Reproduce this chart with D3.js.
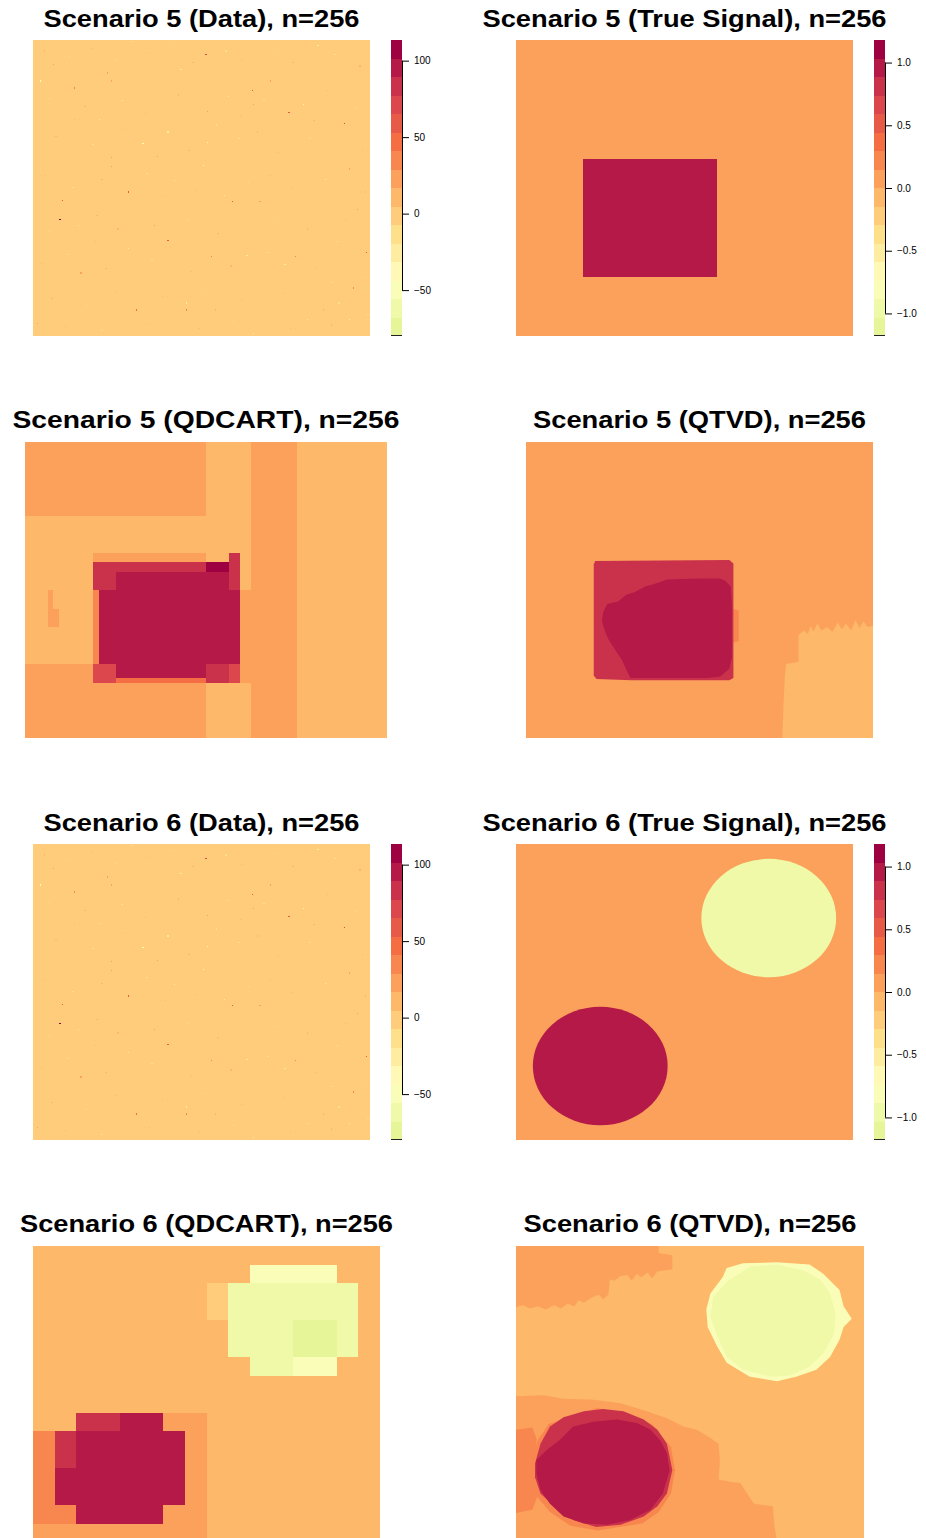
<!DOCTYPE html>
<html>
<head>
<meta charset="utf-8">
<script src="https://cdn.jsdelivr.net/npm/d3@7"></script>
<style>
  body { margin: 0; background: #fff; }
  svg { display: block; }
  text { font-family: "Liberation Sans", Arial, Helvetica, sans-serif; }
</style>
</head>
<body>
<div id="chart"></div>
<script>
// colour ramp used by every panel (top of the colour bar first)
const paletteAnchors = ['#9E0142', '#D53E4F', '#F46D43', '#FDAE61', '#FEE08B', '#FFFFBF', '#E6F598'];
const nColors = 16;
const gridSize = 256;

// colour-bar ranges and ticks
const dataZlim = [-80, 113.5];
const signalZlim = [-1.18, 1.18];
const dataTicks = [-50, 0, 50, 100];
const signalTicks = [-1, -0.5, 0, 0.5, 1];

const titles = [
  'Scenario 5 (Data), n=256', 'Scenario 5 (True Signal), n=256',
  'Scenario 5 (QDCART), n=256', 'Scenario 5 (QTVD), n=256',
  'Scenario 6 (Data), n=256', 'Scenario 6 (True Signal), n=256',
  'Scenario 6 (QDCART), n=256', 'Scenario 6 (QTVD), n=256'
];

// noisy data: typical level plus the visible outlier pixels [x, y, value]
const noiseLevel = 0;
const noiseSpecks = [
  [20, 100, 110], [131, 243, 70], [166, 212, 60], [194, 193, 65], [236, 183, 70],
  [72, 124, 60], [22, 117, 55], [151, 116, 65], [102, 82, 60], [78, 22, 50],
  [116, 22, 40], [243, 41, 35], [199, 68, 30], [135, 68, 30], [253, 72, 55],
  [31, 214, 30], [59, 154, 25], [59, 220, 25], [132, 194, 25], [129, 147, -45],
  [5, 220, -40], [132, 167, -35], [240, 14, -30], [83, 166, -40], [102, 176, -30],
  [148, 207, -30], [205, 200, -35], [216, 251, -30], [75, 254, -30], [50, 187, -25],
  [72, 75, -30], [34, 95, -25], [107, 134, -25], [145, 121, -25], [231, 81, -30],
  [191, 61, -25], [116, 28, -25], [208, 14, -25], [167, 2, -25], [15, 234, 20],
  [56, 227, 20], [180, 220, 20], [167, 200, 20], [31, 187, 15], [94, 155, 20],
  [59, 146, 20], [240, 144, 20], [172, 116, 20], [92, 95, 20], [3, 10, 20],
  [220, 22, 15], [47, 81, 15], [180, 138, 15], [223, 212, 15], [36, 54, 20],
  [138, 22, 15], [246, 109, 20], [112, 230, -20], [162, 69, -20], [226, 46, -20],
  // fainter pixels
  [8, 246, 10], [27, 241, -12], [44, 248, 12], [63, 239, -15], [88, 244, 10],
  [104, 250, -12], [121, 236, 12], [146, 246, -15], [158, 238, 10], [183, 247, -12],
  [197, 236, 12], [229, 243, -15], [248, 233, 10], [12, 205, -12], [39, 198, 10],
  [67, 203, -15], [85, 192, 12], [110, 208, 10], [139, 182, -12], [157, 190, 12],
  [175, 204, -15], [213, 186, 10], [245, 197, -12], [17, 172, 12], [45, 165, -15],
  [70, 178, 10], [118, 160, 12], [156, 170, -12], [186, 158, 10], [210, 170, -15],
  [250, 160, 12], [9, 138, 10], [30, 128, -12], [52, 135, 12], [86, 140, -15],
  [123, 125, 10], [163, 132, -12], [196, 127, 12], [222, 135, -15], [252, 124, 10],
  [12, 90, -12], [48, 104, 12], [64, 92, 10], [117, 100, -15], [140, 88, 12],
  [185, 98, -12], [208, 92, 10], [237, 100, 12], [6, 62, 12], [26, 70, -15],
  [55, 58, 10], [90, 66, -12], [120, 55, 12], [150, 60, 10], [178, 72, -15],
  [214, 58, 12], [250, 50, -12], [14, 32, 10], [40, 26, -15], [62, 38, 12],
  [98, 34, 10], [128, 40, -12], [158, 30, 12], [190, 36, 10], [232, 28, -15],
  [24, 8, 12], [52, 4, -12], [88, 10, 10], [126, 6, 12], [152, 12, -15],
  [195, 6, 10], [226, 9, 12], [254, 18, -12], [100, 120, 12], [170, 176, 10]
];

// true signals
const s5Square = [51, 153, 51, 153, 1];            // x0, x1, y0, y1, value
const s5Background = 0;
const s6Circles = [[64, 64, 51.2, 1], [192, 192, 51.2, -1]]; // cx, cy, r, value
const s6Background = 0;

// QDCART fits: dyadic blocks [x0, x1, y0, y1, value], painted in order
const s5Qdcart = [
  [0, 256, 0, 256, -0.07], [0, 128, 192, 256, 0.07], [160, 192, 0, 256, 0.07],
  [0, 128, 0, 64, 0.07], [152, 160, 48, 128, 0.07], [16, 20, 96, 128, 0.07],
  [20, 24, 96, 112, 0.07], [48, 128, 152, 160, 0.07], [144, 152, 128, 160, 0.8],
  [48, 128, 144, 152, 0.8], [128, 144, 144, 152, 1.1], [48, 64, 128, 144, 0.8],
  [64, 144, 128, 144, 0.95], [48, 52, 64, 128, 0.22], [52, 152, 64, 128, 0.95],
  [48, 64, 48, 64, 0.66], [64, 128, 52, 64, 0.95], [64, 128, 48, 52, 0.37],
  [128, 144, 48, 64, 0.8], [144, 152, 48, 64, 0.66]
];
const s6Qdcart = [
  [0, 256, 0, 256, -0.07], [0, 128, 0, 112, 0.07], [0, 32, 96, 112, -0.07],
  [0, 16, 16, 96, 0.22], [16, 32, 16, 32, 0.22], [32, 64, 96, 112, 0.8],
  [64, 96, 96, 112, 0.95], [16, 32, 64, 96, 0.8], [32, 112, 32, 96, 0.95],
  [16, 32, 32, 64, 0.95], [32, 96, 16, 32, 0.95],
  [160, 224, 224, 240, -0.81], [128, 144, 192, 224, -0.22], [144, 240, 160, 224, -0.96],
  [192, 224, 160, 192, -1.11], [160, 192, 144, 160, -0.96], [192, 224, 144, 160, -0.81]
];

// QTVD fits: background level plus regions {value, points}
const s5QtvdBackground = 0.07;
const s5Qtvd = [
  { value: -0.07, points: [[189, 0], [190, 30], [191, 55], [192, 64], [201, 66], [201, 89], [205, 93], [208, 90], [210, 97], [212, 92], [215, 99], [218, 93], [222, 96], [226, 92], [230, 100], [233, 94], [236, 99], [240, 93], [243, 102], [246, 95], [249, 101], [252, 96], [256, 97], [256, 0]] },
  { value: 0.22, points: [[152, 82], [157, 84], [157, 110], [152, 112]] },
  { value: 0.8, points: [[50, 150], [51, 153], [150, 154], [153, 151], [153, 52], [150, 50], [78, 50], [52, 51], [50, 54]] },
  { value: 0.95, points: [[99, 135], [104, 137], [128, 138], [143, 138], [147, 136], [151, 131], [152, 116], [152, 93], [152, 70], [150, 60], [143, 53], [133, 52], [77, 52], [74, 59], [71, 67], [66, 76], [61, 85], [58, 93], [56, 101], [57, 109], [60, 116], [68, 118], [74, 124], [80, 126], [88, 131], [94, 133]] }
];
const s6QtvdBackground = -0.07;
const s6Qtvd = [
  { value: 0.07, points: [[0, 256], [105, 256], [105, 250], [115, 248], [115, 236], [104, 234], [100, 228], [97, 233], [92, 229], [89, 232], [85, 226], [82, 231], [77, 230], [72, 226], [69, 227], [68, 214], [64, 210], [61, 214], [55, 211], [50, 207], [46, 209], [43, 204], [38, 206], [33, 202], [28, 205], [22, 201], [16, 204], [10, 202], [5, 205], [0, 203]] },
  { value: 0.07, points: [[0, 126], [20, 127], [35, 124], [57, 123], [77, 120], [94, 114], [111, 107], [123, 100], [133, 97], [143, 90], [149, 85], [150, 70], [149, 54], [158, 52], [165, 51], [170, 42], [175, 33], [182, 32], [189, 31], [190, 15], [192, 0], [0, 0]] },
  { value: 0.22, points: [[0, 97], [12, 99], [15, 90], [16, 40], [12, 28], [0, 25]] },
  { value: 0.22, points: [[12, 70], [16, 88], [24, 102], [60, 116], [100, 102], [114, 82], [117, 62], [114, 42], [105, 26], [93, 16], [60, 10], [40, 14], [25, 26], [15, 40], [12, 55]] },
  { value: 0.8, points: [[14, 68], [18, 85], [25, 100], [35, 108], [50, 113], [64, 115], [79, 113], [94, 106], [104, 97], [111, 85], [113, 74], [115, 62], [111, 42], [104, 31], [94, 22], [77, 15], [59, 13], [42, 19], [28, 31], [18, 42], [14, 56]] },
  { value: 0.95, points: [[15, 71], [23, 80], [32, 88], [42, 100], [57, 104], [74, 106], [89, 103], [99, 97], [106, 88], [111, 77], [113, 62], [108, 42], [99, 28], [84, 19], [67, 15], [50, 16], [35, 22], [25, 33], [18, 45], [15, 59]] },
  { value: -0.81, points: [[140, 201], [143, 215], [152, 229], [155, 237], [167, 241], [192, 242], [216, 240], [226, 232], [238, 218], [241, 204], [247, 193], [241, 186], [238, 175], [231, 160], [221, 149], [206, 143], [192, 139], [172, 143], [155, 155], [148, 169], [141, 186]] },
  { value: -0.96, points: [[143, 195], [145, 212], [155, 225], [172, 238], [192, 240], [211, 235], [224, 227], [231, 215], [235, 198], [234, 180], [226, 163], [216, 152], [202, 144], [187, 143], [167, 149], [155, 160], [148, 178]] }
];

// ---------------------------------------------------------------------------
const interp = d3.piecewise(d3.interpolateRgb, paletteAnchors);
const paletteTopDown = d3.quantize(interp, nColors);
const paletteLowHigh = paletteTopDown.slice().reverse();

const dataColor = d3.scaleQuantize().domain(dataZlim).range(paletteLowHigh);
const signalColor = d3.scaleQuantize().domain(signalZlim).range(paletteLowHigh);

// panel placement (pixels)
const layout = [
  { x0: 33, x1: 370, y0: 40, y1: 336, tw: 316, base: 27, bar: 'data' },
  { x0: 516, x1: 853, y0: 40, y1: 336, tw: 404, base: 27, bar: 'signal' },
  { x0: 25, x1: 387, y0: 442, y1: 738, tw: 387, base: 428 },
  { x0: 526, x1: 873, y0: 442, y1: 738, tw: 333, base: 428 },
  { x0: 33, x1: 370, y0: 844, y1: 1140, tw: 316, base: 831, bar: 'data' },
  { x0: 516, x1: 853, y0: 844, y1: 1140, tw: 404, base: 831, bar: 'signal' },
  { x0: 33, x1: 380, y0: 1246, y1: 1542, tw: 373, base: 1232 },
  { x0: 516, x1: 864, y0: 1246, y1: 1542, tw: 333, base: 1232 }
];

const svg = d3.select('#chart').append('svg')
  .attr('width', 926)
  .attr('height', 1538);

function drawBlocks(g, x, y, blocks, color) {
  g.selectAll('rect.block').data(blocks).join('rect')
    .attr('class', 'block')
    .attr('x', d => x(d[0]))
    .attr('width', d => x(d[1]) - x(d[0]))
    .attr('y', d => y(d[3]))
    .attr('height', d => y(d[2]) - y(d[3]))
    .attr('fill', d => color(d[4]))
    .attr('shape-rendering', 'crispEdges');
}

function drawRegions(g, x, y, regions, color) {
  const line = d3.line().x(d => x(d[0])).y(d => y(d[1]));
  g.selectAll('path.region').data(regions).join('path')
    .attr('class', 'region')
    .attr('d', d => line(d.points) + 'Z')
    .attr('fill', d => color(d.value));
}

function drawSpecks(g, x, y, specks, color) {
  g.selectAll('rect.speck').data(specks).join('rect')
    .attr('class', 'speck')
    .attr('x', d => x(d[0]))
    .attr('width', x(1) - x(0))
    .attr('y', d => y(d[1] + 1))
    .attr('height', y(0) - y(1))
    .attr('fill', d => color(d[2]))
    .attr('shape-rendering', 'crispEdges');
}

function drawColorBar(zlim, ticks, fmt, top, bottom, left) {
  const barW = 11;
  const yb = d3.scaleLinear().domain(zlim).range([bottom, top]);
  const color = d3.scaleQuantize().domain(zlim).range(paletteLowHigh);
  const step = (zlim[1] - zlim[0]) / nColors;
  const bins = d3.range(nColors).map(i => zlim[0] + i * step);
  const g = svg.append('g');
  g.selectAll('rect').data(bins).join('rect')
    .attr('x', left)
    .attr('width', barW)
    .attr('y', d => yb(d + step))
    .attr('height', d => yb(d) - yb(d + step))
    .attr('fill', d => color(d + step / 2))
    .attr('shape-rendering', 'crispEdges');
  g.append('line')
    .attr('x1', left).attr('x2', left + barW)
    .attr('y1', bottom - 0.5).attr('y2', bottom - 0.5)
    .attr('stroke', '#222').attr('stroke-width', 1);

  const axis = d3.axisRight(yb).tickValues(ticks).tickSize(7).tickPadding(5).tickFormat(fmt);
  const ag = svg.append('g')
    .attr('transform', `translate(${left + barW},0)`)
    .call(axis);
  ag.select('.domain').remove();
  ag.append('line')
    .attr('x1', 0.5).attr('x2', 0.5)
    .attr('y1', yb(ticks[0])).attr('y2', yb(ticks[ticks.length - 1]))
    .attr('stroke', '#000');
  ag.selectAll('.tick line').attr('stroke', '#000');
  ag.selectAll('.tick text')
    .attr('fill', '#000')
    .style('font-size', '10px')
    .style('font-family', '"Liberation Sans", Arial, sans-serif');
}

layout.forEach((p, i) => {
  const x = d3.scaleLinear().domain([0, gridSize]).range([p.x0, p.x1]);
  const y = d3.scaleLinear().domain([0, gridSize]).range([p.y1, p.y0]);
  const g = svg.append('g');

  if (i === 0 || i === 4) {
    drawBlocks(g, x, y, [[0, gridSize, 0, gridSize, noiseLevel]], dataColor);
    drawSpecks(g, x, y, noiseSpecks, dataColor);
  } else if (i === 1) {
    drawBlocks(g, x, y, [[0, gridSize, 0, gridSize, s5Background], s5Square], signalColor);
  } else if (i === 5) {
    drawBlocks(g, x, y, [[0, gridSize, 0, gridSize, s6Background]], signalColor);
    g.selectAll('ellipse').data(s6Circles).join('ellipse')
      .attr('cx', d => x(d[0]))
      .attr('cy', d => y(d[1]))
      .attr('rx', d => x(d[2]) - x(0))
      .attr('ry', d => y(0) - y(d[2]))
      .attr('fill', d => signalColor(d[3]));
  } else if (i === 2) {
    drawBlocks(g, x, y, s5Qdcart, signalColor);
  } else if (i === 6) {
    drawBlocks(g, x, y, s6Qdcart, signalColor);
  } else if (i === 3) {
    drawBlocks(g, x, y, [[0, gridSize, 0, gridSize, s5QtvdBackground]], signalColor);
    drawRegions(g, x, y, s5Qtvd, signalColor);
  } else if (i === 7) {
    drawBlocks(g, x, y, [[0, gridSize, 0, gridSize, s6QtvdBackground]], signalColor);
    drawRegions(g, x, y, s6Qtvd, signalColor);
  }

  svg.append('text')
    .attr('x', (p.x0 + p.x1) / 2)
    .attr('y', p.base)
    .attr('text-anchor', 'middle')
    .attr('font-weight', 'bold')
    .attr('font-size', 24)
    .attr('textLength', p.tw)
    .attr('lengthAdjust', 'spacingAndGlyphs')
    .text(titles[i]);

  if (p.bar === 'data') {
    drawColorBar(dataZlim, dataTicks, d3.format('d'), p.y0, p.y1, p.x1 + 21);
  } else if (p.bar === 'signal') {
    drawColorBar(signalZlim, signalTicks, d3.format('.1f'), p.y0, p.y1, p.x1 + 21);
  }
});
</script>
</body>
</html>
